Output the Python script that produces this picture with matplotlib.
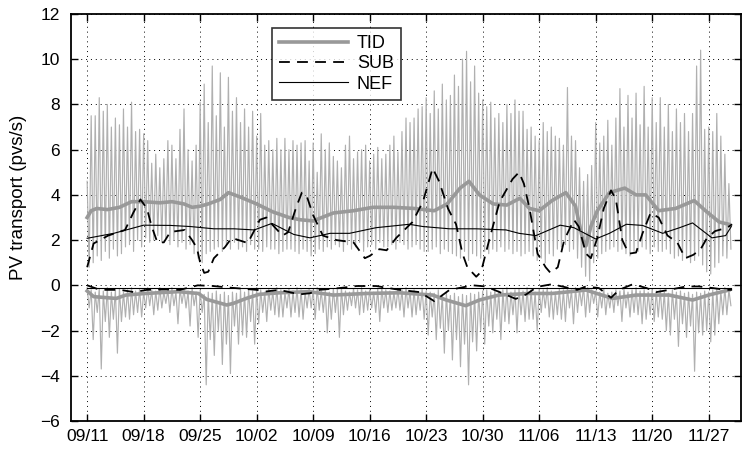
import matplotlib
matplotlib.use("Agg")
import matplotlib.pyplot as plt
import numpy as np

plt.rcParams['font.family'] = ['Liberation Sans', 'DejaVu Sans']

# ---------------- data (days since 09/11) ----------------
tick_days = [0, 7, 14, 21, 28, 35, 42, 49, 56, 63, 70, 77]
tick_labels = ['09/11', '09/18', '09/25', '10/02', '10/09', '10/16',
               '10/23', '10/30', '11/06', '11/13', '11/20', '11/27']
sample_step_days = 0.5  # 12-hourly tidal peaks

# raw tidal transport: positive peaks (one per 12 h)
tid_peaks = [4.6, 7.5, 7.5, 8.3, 7.7, 8.0, 7.0, 7.4, 7.1, 7.8, 7.0, 8.1, 6.8, 6.9, 6.7, 6.4, 5.4, 5.8, 5.2, 5.6,
             6.4, 6.2, 5.6, 6.9, 7.8, 6.0, 5.5, 6.2, 8.1, 8.9, 7.2, 9.7, 7.5, 9.4, 7.0, 9.2, 7.7, 8.3, 7.2, 7.8,
             7.0, 7.7, 6.6, 7.6, 6.2, 6.4, 6.0, 6.5, 6.0, 6.5, 6.0, 6.4, 6.2, 6.3, 6.4, 5.5, 6.3, 5.0, 6.7, 6.0,
             6.3, 5.7, 5.5, 5.2, 6.2, 6.6, 5.6, 5.9, 6.0, 6.2, 5.5, 5.8, 6.1, 5.6, 5.8, 6.2, 6.6, 5.9, 6.8, 7.4,
             7.2, 7.4, 7.8, 7.9, 8.3, 7.6, 8.6, 7.8, 8.9, 8.2, 8.4, 9.3, 8.8, 10.0, 10.35, 9.0, 9.7, 8.5, 8.2, 7.9,
             8.1, 7.4, 7.6, 7.2, 8.0, 7.6, 8.2, 7.7, 7.7, 6.9, 7.0, 6.6, 6.4, 7.2, 6.8, 7.0, 6.6, 6.5, 6.2, 8.75,
             6.6, 6.4, 5.2, 4.6, 4.9, 5.3, 7.2, 6.3, 6.6, 7.3, 6.2, 7.4, 8.7, 7.0, 8.4, 7.4, 8.5, 7.1, 8.8, 7.0,
             8.3, 7.2, 8.3, 7.0, 8.0, 6.8, 7.8, 7.2, 7.6, 6.8, 7.6, 9.7, 10.4, 6.9, 7.0, 6.8, 7.6, 6.6, 5.8, 4.5]
# raw tidal transport: positive troughs between peaks
tid_troughs = [0.8, 1.0, 1.3, 1.1, 1.5, 1.2, 1.6, 1.3, 1.4, 1.7, 1.8, 1.5, 2.0, 1.7, 2.1, 1.9, 2.0, 2.2, 1.9, 2.1,
               1.8, 2.0, 1.7, 1.9, 1.6, 1.8, 1.4, 1.2, 1.0, 1.4, 1.5, 1.6, 1.7, 1.5, 1.8, 1.6, 1.9, 1.6, 1.7, 1.5,
               1.8, 1.6, 1.6, 1.5, 1.7, 1.6, 1.6, 1.4, 1.5, 1.6, 1.6, 1.5, 1.4, 1.6, 1.5, 1.3, 1.4, 1.6, 1.5, 1.7,
               1.6, 1.8, 1.7, 1.5, 1.8, 1.6, 1.7, 1.9, 1.5, 1.7, 1.8, 1.6, 1.9, 1.7, 1.7, 1.8, 1.6, 1.9, 1.8, 1.6,
               1.7, 1.8, 1.6, 1.5, 1.5, 1.6, 1.7, 1.4, 1.6, 1.5, 1.4, 1.3, 1.2, 1.5, 1.1, 1.4, 1.3, 1.2, 1.5, 1.4,
               1.6, 1.5, 1.7, 1.5, 1.6, 1.4, 1.5, 1.3, 1.4, 1.5, 1.3, 1.1, 1.2, 1.0, 1.4, 1.3, 1.6, 1.7, 1.8, 1.5,
               1.6, 1.2, 0.8, 0.4, 0.2, 1.0, 1.2, 1.4, 1.5, 1.6, 1.7, 1.5, 1.6, 1.4, 1.3, 1.5, 1.5, 1.7, 1.6, 1.4,
               1.7, 1.5, 1.5, 1.6, 1.4, 1.2, 1.3, 1.1, 1.2, 1.0, 1.1, 1.3, 0.9, 0.6, 0.5, 0.8, 1.0, 1.3, 1.2, 1.6]
# raw tidal transport: negative spikes
tid_neg_spikes = [-1.0, -2.4, -1.2, -3.7, -1.6, -2.3, -1.5, -3.0, -1.6, -1.4, -1.5, -1.3, -1.2, -1.4, -1.0, -0.9, -1.3, -1.1, -1.0, -0.8,
                  -1.2, -0.9, -1.7, -0.8, -1.0, -1.8, -0.9, -2.3, -1.2, -4.4, -2.4, -3.1, -2.0, -3.5, -2.6, -3.9, -1.8, -2.6, -2.2, -2.3,
                  -1.6, -2.6, -1.7, -1.2, -1.6, -1.1, -1.3, -1.4, -1.4, -1.0, -1.4, -1.2, -1.4, -1.5, -1.0, -1.0, -1.5, -1.1, -1.2, -2.1,
                  -1.5, -1.2, -2.3, -1.3, -1.1, -0.9, -1.0, -1.3, -1.2, -1.1, -1.0, -1.2, -1.6, -1.0, -1.2, -1.1, -1.0, -1.1, -1.4, -1.0,
                  -1.4, -1.3, -1.1, -1.5, -2.2, -1.4, -2.4, -1.9, -3.0, -2.0, -3.3, -2.4, -3.6, -2.6, -4.4, -2.5, -2.9, -2.0, -2.6, -1.8,
                  -2.1, -1.5, -2.4, -1.6, -1.7, -1.3, -2.1, -1.3, -1.6, -1.5, -1.5, -2.0, -1.2, -1.0, -1.4, -1.5, -1.3, -1.5, -1.6, -1.0,
                  -1.7, -1.2, -0.9, -1.4, -1.2, -0.8, -1.4, -1.0, -1.3, -1.0, -1.2, -0.9, -1.6, -1.0, -1.4, -1.2, -1.3, -1.7, -1.5, -1.3,
                  -1.6, -1.4, -1.5, -2.0, -2.2, -1.5, -2.7, -1.7, -2.3, -1.8, -3.8, -2.1, -2.2, -2.0, -2.5, -2.2, -1.7, -1.3, -1.3, -0.9]
# raw tidal transport: negative near-zero values between spikes
tid_neg_tops = [-0.1, -0.2, -0.3, -0.15, -0.25, -0.1, -0.3, -0.2, -0.15, -0.3, -0.2, -0.1, -0.25, -0.15, -0.3, -0.1, -0.2, -0.25, -0.1, -0.3,
                -0.2, -0.1, -0.3, -0.15, -0.2, -0.25, -0.1, -0.3, -0.2, -0.4, -0.3, -0.35, -0.25, -0.4, -0.3, -0.45, -0.3, -0.35, -0.2, -0.3,
                -0.15, -0.25, -0.1, -0.2, -0.3, -0.15, -0.25, -0.1, -0.2, -0.3, -0.15, -0.25, -0.1, -0.2, -0.3, -0.15, -0.2, -0.1, -0.25, -0.2,
                -0.3, -0.15, -0.2, -0.1, -0.25, -0.3, -0.15, -0.2, -0.1, -0.25, -0.2, -0.3, -0.15, -0.1, -0.2, -0.25, -0.3, -0.15, -0.2, -0.1,
                -0.25, -0.2, -0.3, -0.15, -0.25, -0.3, -0.35, -0.2, -0.4, -0.3, -0.45, -0.35, -0.5, -0.4, -0.45, -0.35, -0.4, -0.3, -0.25, -0.2,
                -0.3, -0.15, -0.25, -0.2, -0.1, -0.3, -0.2, -0.15, -0.25, -0.1, -0.2, -0.3, -0.15, -0.2, -0.1, -0.25, -0.3, -0.15, -0.2, -0.1,
                -0.2, -0.1, -0.15, -0.05, -0.1, -0.2, -0.25, -0.3, -0.15, -0.35, -0.3, -0.2, -0.25, -0.15, -0.3, -0.2, -0.1, -0.25, -0.2, -0.3,
                -0.15, -0.25, -0.2, -0.3, -0.35, -0.2, -0.3, -0.25, -0.35, -0.3, -0.4, -0.3, -0.35, -0.25, -0.3, -0.2, -0.15, -0.25, -0.1, -0.2]

# low-passed tidal (TID) transport, positive and negative parts
tid_days = [0, 0.5, 1.2, 2.5, 4, 5.5, 7, 9, 10.5, 12, 13, 14, 15, 16.5, 17.5, 19, 21, 23, 25, 26.4,
            28, 30.5, 33, 35.4, 38, 40.5, 43, 44.6, 46.2, 47.3, 48.6, 50.3, 52, 53.6, 54.8, 56, 57.6, 59.3, 60.5, 61.4,
            61.8, 62.4, 63.2, 64.7, 66.6, 68, 69.2, 70.8, 72.9, 75.2, 76.6, 78.3, 79.5]
tid_pos = [3.0, 3.3, 3.4, 3.35, 3.45, 3.7, 3.7, 3.65, 3.7, 3.6, 3.45, 3.5, 3.6, 3.8, 4.1, 3.9, 3.6, 3.25, 3.0, 2.9,
           2.85, 3.2, 3.3, 3.45, 3.45, 3.4, 3.3, 3.6, 4.3, 4.6, 4.0, 3.6, 3.55, 3.85, 3.4, 3.3, 3.75, 4.1, 3.5, 2.0,
           1.75, 2.6, 3.3, 4.1, 4.3, 4.0, 4.0, 3.3, 3.4, 3.75, 3.3, 2.8, 2.7]
tid_neg_days = [0, 0.8, 3.6, 4.8, 7.2, 11.3, 13.8, 14.8, 17.3, 18.1, 19.7, 21.3, 23.8, 27.5, 30.5, 34.6, 38.7, 42.8,
                44.5, 46.9, 48.6, 51, 54.8, 57.6, 61.8, 65.1, 68, 72.1, 75, 77, 79.5]
tid_neg = [-0.25, -0.5, -0.58, -0.43, -0.36, -0.28, -0.36, -0.62, -0.87, -0.8, -0.58, -0.4, -0.33, -0.28, -0.43, -0.36,
           -0.33, -0.43, -0.65, -0.9, -0.65, -0.43, -0.36, -0.36, -0.21, -0.58, -0.43, -0.43, -0.65, -0.43, -0.21]

# subtidal (SUB) transport
sub_days = [0, 0.8, 2.6, 4.7, 5.7, 6.6, 7.4, 8.0, 8.7, 9.5, 10.3, 12.1, 13.0, 13.6, 14.0, 14.5, 15.0, 15.7, 17.1, 17.9,
            19.9, 21.4, 22.2, 23.0, 24.2, 24.9, 25.9, 26.6, 27.2, 28.0, 29.2, 30.9, 33.0, 34.4, 35.0, 36.2, 37.1, 38.3, 40.3, 41.6,
            42.8, 43.6, 44.7, 45.7, 46.5, 47.1, 48.2, 48.8, 49.8, 51.1, 52.7, 53.5, 54.1, 54.8, 55.8, 56.8, 57.4, 58.3, 59.1, 60.3,
            60.9, 61.8, 62.4, 63.2, 64.0, 64.9, 65.5, 66.3, 67.1, 68.0, 68.8, 69.8, 70.8, 71.9, 73.1, 74.1, 75.1, 76.0, 76.8, 77.8,
            79.3, 79.9]
sub_pos = [0.8, 1.85, 2.2, 2.45, 3.2, 3.8, 3.4, 2.6, 1.9, 1.9, 2.36, 2.45, 2.0, 1.65, 1.0, 0.55, 0.6, 1.2, 1.7, 2.1,
           1.87, 2.9, 3.0, 2.66, 2.2, 2.35, 3.46, 4.1, 3.95, 3.1, 2.2, 2.0, 1.9, 1.2, 1.3, 1.6, 1.55, 2.1, 2.8, 3.7,
           5.18, 4.6, 3.4, 2.7, 1.4, 0.8, 0.38, 0.6, 2.0, 3.7, 4.7, 5.0, 4.5, 3.4, 1.4, 0.8, 0.55, 0.8, 2.0, 2.9,
           2.6, 1.4, 1.2, 2.1, 3.4, 4.2, 3.8, 2.0, 1.4, 1.45, 2.3, 3.2, 3.0, 2.2, 1.9, 1.2, 1.35, 1.6, 2.1, 2.4,
           2.55, 2.7]
sub_neg_days = [0, 1.6, 4.1, 5.8, 7.4, 9.8, 11.5, 13.7, 15.6, 17.6, 21, 22.2, 23.8, 26.3, 27.6, 28.8, 31.3, 33.4, 35.8, 38.7,
                41.2, 43, 44.9, 47.8, 49.4, 51.1, 53.1, 54.4, 55.2, 56, 57.6, 59.7, 60.7, 61.8, 63.4, 64.9, 65.9, 67.6, 69.3, 70.5,
                72.1, 74.2, 75.8, 77.5, 79.1, 79.9]
sub_neg = [0.0, -0.2, -0.2, -0.3, -0.2, -0.18, -0.2, 0.0, -0.03, -0.1, -0.2, -0.27, -0.2, -0.4, -0.35, -0.2, -0.12, -0.03, -0.03, -0.2,
           -0.3, -0.7, -0.2, 0.0, -0.05, -0.3, -0.6, -0.4, -0.2, -0.05, 0.05, -0.12, -0.2, -0.05, -0.12, -0.55, -0.2, 0.05, -0.12, -0.3,
           -0.2, -0.05, -0.05, -0.12, -0.2, -0.2]

# net (NEF) transport
nef_days = [0, 3.3, 7, 10.3, 12.8, 15.7, 18.2, 20.7, 22.9, 25.6, 27.6, 30.1, 32.5, 35.8, 39.9, 41.6, 44.9, 48.2, 51.9, 53.5,
            55.6, 58.6, 60.3, 63, 64.7, 66.8, 68.8, 71.3, 73.4, 75, 77.4, 79.1, 79.8]
nef_pos = [2.08, 2.3, 2.66, 2.65, 2.6, 2.5, 2.5, 2.45, 2.74, 2.25, 2.1, 2.3, 2.3, 2.55, 2.7, 2.6, 2.5, 2.5, 2.45, 2.3,
           2.2, 2.66, 2.55, 2.05, 2.3, 2.7, 2.65, 2.3, 2.55, 2.76, 2.1, 2.2, 2.6]
nef_neg_days = [0, 79.8]
nef_neg = [-0.1, -0.1]

# ---------------- figure ----------------
fig = plt.figure(figsize=(7.42, 4.51), dpi=100)
ax = fig.add_axes([71 / 742, 30 / 451, 670 / 742, 407 / 451])

n = len(tid_peaks)
t_peak = np.arange(n) * sample_step_days
t_trough = t_peak + sample_step_days / 2
raw_t = np.empty(2 * n)
raw_t[0::2] = t_peak
raw_t[1::2] = t_trough
raw_pos = np.empty(2 * n)
raw_pos[0::2] = tid_peaks
raw_pos[1::2] = tid_troughs
raw_neg = np.empty(2 * n)
raw_neg[0::2] = tid_neg_tops
raw_neg[1::2] = tid_neg_spikes

thin_gray = '#b0b0b0'
thick_gray = '#999999'

ax.plot(raw_t, raw_pos, color=thin_gray, lw=0.85, zorder=2)
ax.plot(raw_t, raw_neg, color=thin_gray, lw=0.85, zorder=2)

l1, = ax.plot(tid_days, tid_pos, color=thick_gray, lw=2.6, zorder=3)
ax.plot(tid_neg_days, tid_neg, color=thick_gray, lw=2.6, zorder=3)
l2, = ax.plot(sub_days, sub_pos, color='black', lw=1.3, ls=(0, (6, 4)), zorder=4)
ax.plot(sub_neg_days, sub_neg, color='black', lw=1.3, ls=(0, (6, 4)), zorder=4)
l3, = ax.plot(nef_days, nef_pos, color='black', lw=0.8, zorder=5)
ax.plot(nef_neg_days, nef_neg, color='black', lw=0.8, zorder=5)

ax.set_xlim(-2, 81)
ax.set_ylim(-6, 12)
ax.set_xticks(tick_days)
ax.set_xticklabels(tick_labels)
ax.set_yticks(np.arange(-6, 13, 2))
ax.tick_params(axis='both', direction='in', top=True, right=True, labelsize=12.5,
               length=5, width=1.0)
ax.tick_params(axis='y', pad=8)
ax.tick_params(axis='x', pad=6)
ax.grid(True, color='black', ls=(0, (1, 4)), lw=0.7)
for s in ax.spines.values():
    s.set_linewidth(1.3)
ax.set_ylabel('PV transport (pvs/s)', fontsize=13.5)
ax.yaxis.set_label_coords(-0.066, 0.55)

leg = ax.legend([l1, l2, l3], ['TID', 'SUB', 'NEF'], loc='upper left',
                bbox_to_anchor=(0.300, 0.966), fontsize=13, handlelength=3.8,
                frameon=True, fancybox=False, borderpad=0.4, labelspacing=0.18,
                handletextpad=0.5, borderaxespad=0)
leg.get_frame().set_edgecolor('black')
leg.get_frame().set_linewidth(1.2)

fig.savefig('out.png', dpi=100)
